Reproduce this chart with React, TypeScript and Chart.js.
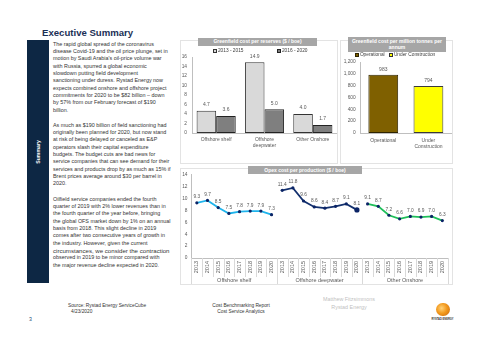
import React, { useEffect, useRef } from "react";
import { Chart, registerables } from "chart.js";

Chart.register(...registerables);

// ---------- data ----------
const reserveCats = [["Offshore shelf"], ["Offshore", "deepwater"], ["Other Onshore"]];
const reserveSeriesNames = ["2013 - 2015", "2016 - 2020"];
const reserve2013to2015 = [4.7, 14.9, 4.0];
const reserve2016to2020 = [3.6, 5.0, 1.7];

const mtpaCats = [["Operational"], ["Under", "Construction"]];
const mtpaSeriesNames = ["Operational", "Under Construction"];
const mtpaValues = [983, 794];

const opexYears = ["2013", "2014", "2015", "2016", "2017", "2018", "2019", "2020"];
const opexGroups = ["Offshore shelf", "Offshore deepwater", "Other Onshore"];
const opexShelf = [9.3, 9.7, 8.5, 7.5, 7.8, 7.9, 7.9, 7.3];
const opexDeepwater = [11.4, 11.8, 9.6, 8.6, 8.4, 8.7, 9.1, 8.1];
const opexOnshore = [9.1, 8.7, 7.2, 6.6, 7.0, 6.9, 7.0, 6.3];

const para1 = [
  "The rapid global spread of the coronavirus",
  "disease Covid-19 and the oil price plunge, set in",
  "motion by Saudi Arabia's oil-price volume war",
  "with Russia, spurred a global economic",
  "slowdown putting field development",
  "sanctioning under duress. Rystad Energy now",
  "expects combined onshore and offshore project",
  "commitments for 2020 to be $82 billion \u2013 down",
  "by 57% from our February forecast of $190",
  "billion.",
];
const para2 = [
  "As much as $190 billion of field sanctioning had",
  "originally been planned for 2020, but now stand",
  "at risk of being delayed or canceled as E&P",
  "operators slash their capital expenditure",
  "budgets. The budget cuts are bad news for",
  "service companies that can see demand for their",
  "services and products drop by as much as 15% if",
  "Brent prices average around $30 per barrel in",
  "2020.",
];
const para3 = [
  "Oilfield service companies ended the fourth",
  "quarter of 2019 with 2% lower revenues than in",
  "the fourth quarter of the year before, bringing",
  "the global OFS market down by 1% on an annual",
  "basis from 2018. This slight decline in 2019",
  "comes after two consecutive years of growth in",
  "the industry. However, given the current",
  "circumstances, we consider the contraction",
  "observed in 2019 to be minor compared with",
  "the major revenue decline expected in 2020.",
];

// ---------- helpers ----------
const FONT = '"Liberation Sans", Arial, sans-serif';
const NARROW = '"Liberation Sans Narrow", "Liberation Sans", Arial, sans-serif';
Chart.defaults.font.family = FONT;

const valueLabels = {
  id: "valueLabels",
  afterDatasetsDraw(chart: any, _args: any, opts: any) {
    const ctx = chart.ctx;
    ctx.save();
    ctx.font = `${opts.size || 5}px ${FONT}`;
    ctx.fillStyle = opts.color || "#595959";
    ctx.textAlign = "center";
    ctx.textBaseline = "bottom";
    chart.data.datasets.forEach((ds: any, i: number) => {
      const meta = chart.getDatasetMeta(i);
      meta.data.forEach((el: any, j: number) => {
        const v = ds.data[j];
        if (v == null) return;
        const txt = opts.decimals != null ? Number(v).toFixed(opts.decimals) : String(v);
        ctx.fillText(txt, el.x, el.y - (opts.offset ?? 3));
      });
    });
    ctx.restore();
  },
};

const groupAxis = {
  id: "groupAxis",
  afterDraw(chart: any) {
    const ctx = chart.ctx;
    const x = chart.scales.x;
    const area = chart.chartArea;
    const n = chart.data.labels.length;
    const w = x.getPixelForValue(1) - x.getPixelForValue(0);
    ctx.save();
    ctx.strokeStyle = "#d9d9d9";
    ctx.lineWidth = 1;
    for (let i = 0; i <= n; i++) {
      const px = Math.round(x.getPixelForValue(i) - w / 2) + 0.5;
      const isGroup = i % opexYears.length === 0;
      ctx.beginPath();
      ctx.moveTo(px, area.bottom);
      ctx.lineTo(px, isGroup ? chart.height : area.bottom + 19);
      ctx.stroke();
    }
    ctx.font = `5.5px ${FONT}`;
    ctx.fillStyle = "#595959";
    ctx.textAlign = "center";
    ctx.textBaseline = "middle";
    opexGroups.forEach((g, gi) => {
      const a = x.getPixelForValue(gi * opexYears.length);
      const b = x.getPixelForValue(gi * opexYears.length + opexYears.length - 1);
      ctx.fillText(g, (a + b) / 2, area.bottom + 22.5);
    });
    ctx.restore();
  },
};

function ChartCanvas({ left, top, width, height, config }: any) {
  const ref = useRef<HTMLCanvasElement>(null);
  useEffect(() => {
    const chart = new Chart(ref.current as HTMLCanvasElement, config);
    return () => chart.destroy();
  }, []);
  return (
    <canvas
      ref={ref}
      width={width}
      height={height}
      style={{ position: "absolute", left, top, width, height }}
    />
  );
}

const axisTick = { color: "#595959" };

const reserveConfig: any = {
  type: "bar",
  data: {
    labels: reserveCats,
    datasets: [
      { label: reserveSeriesNames[0], data: reserve2013to2015, backgroundColor: "#d9d9d9", borderColor: "#333333", borderWidth: 1, borderSkipped: false },
      { label: reserveSeriesNames[1], data: reserve2016to2020, backgroundColor: "#7f7f7f", borderColor: "#222222", borderWidth: 1, borderSkipped: false },
    ],
  },
  options: {
    responsive: false,
    animation: false,
    devicePixelRatio: 1,
    layout: { padding: { top: 17, right: 0, left: 0, bottom: 0 } },
    datasets: { bar: { categoryPercentage: 0.81, barPercentage: 1 } },
    plugins: {
      legend: { display: false },
      tooltip: { enabled: false },
      valueLabels: { offset: 3.5, decimals: 1, size: 5 },
    },
    scales: {
      x: {
        grid: { display: false, drawTicks: false },
        border: { color: "#bfbfbf" },
        ticks: { ...axisTick, font: { size: 5, lineHeight: 1.2 }, padding: 4, maxRotation: 0, autoSkip: false },
        afterFit: (s: any) => { s.height = 30; },
      },
      y: {
        min: 0,
        max: 16,
        grid: { display: false, drawTicks: false },
        border: { color: "#bfbfbf" },
        ticks: { ...axisTick, stepSize: 2, font: { size: 4.8 }, padding: 5 },
        afterFit: (s: any) => { s.width = 12; },
      },
    },
  },
  plugins: [valueLabels],
};

const mtpaConfig: any = {
  type: "bar",
  data: {
    labels: mtpaCats,
    datasets: [
      {
        label: "Greenfield cost per million tonnes per annum",
        data: mtpaValues,
        backgroundColor: ["#7f6000", "#ffff00"],
        borderColor: ["#2e2400", "#3a3a3a"],
        borderWidth: 1,
        borderSkipped: false,
      },
    ],
  },
  options: {
    responsive: false,
    animation: false,
    devicePixelRatio: 1,
    layout: { padding: { top: 22, right: 1, left: 0, bottom: 0 } },
    datasets: { bar: { categoryPercentage: 1, barPercentage: 0.66 } },
    plugins: {
      legend: { display: false },
      tooltip: { enabled: false },
      valueLabels: { offset: 2.5, size: 5 },
    },
    scales: {
      x: {
        grid: { display: false, drawTicks: false },
        border: { color: "#bfbfbf" },
        ticks: { ...axisTick, font: { size: 5, lineHeight: 1.2 }, padding: 5, maxRotation: 0, autoSkip: false },
        afterFit: (s: any) => { s.height = 30; },
      },
      y: {
        min: 0,
        max: 1200,
        grid: { display: false, drawTicks: false },
        border: { color: "#bfbfbf" },
        ticks: { ...axisTick, stepSize: 200, font: { size: 4.8 }, padding: 5 },
        afterFit: (s: any) => { s.width = 20.7; },
      },
    },
  },
  plugins: [valueLabels],
};

const blank = () => opexYears.map(() => null) as (number | null)[];
const opexLabels = [...opexYears, ...opexYears, ...opexYears];
const POINT = "#0b2466";

const opexConfig: any = {
  type: "line",
  data: {
    labels: opexLabels,
    datasets: [
      { label: opexGroups[0], data: [...opexShelf, ...blank(), ...blank()], borderColor: "#1fb4ec", borderWidth: 1.8, pointRadius: 1.6, pointBackgroundColor: POINT, pointBorderWidth: 0 },
      { label: opexGroups[1], data: [...blank(), ...opexDeepwater, ...blank()], borderColor: "#13306e", borderWidth: 1.8, pointRadius: (c: any) => (c.dataIndex === 15 ? 2.6 : 1.6), pointBackgroundColor: POINT, pointBorderWidth: 0 },
      { label: opexGroups[2], data: [...blank(), ...blank(), ...opexOnshore], borderColor: "#1fbf5a", borderWidth: 1.8, pointRadius: 1.6, pointBackgroundColor: POINT, pointBorderWidth: 0 },
    ],
  },
  options: {
    responsive: false,
    animation: false,
    devicePixelRatio: 1,
    spanGaps: false,
    layout: { padding: { top: 3, right: 0, left: 0, bottom: 0 } },
    plugins: {
      legend: { display: false },
      tooltip: { enabled: false },
      valueLabels: { offset: 3.5, decimals: 1, size: 4.8 },
    },
    scales: {
      x: {
        offset: true,
        grid: { display: false, drawTicks: false },
        border: { color: "#bfbfbf" },
        ticks: { ...axisTick, font: { size: 5.5 }, padding: 3, minRotation: 90, maxRotation: 90, autoSkip: false },
        afterFit: (s: any) => { s.height = 26; },
      },
      y: {
        min: 0,
        max: 14,
        grid: { display: false, drawTicks: false },
        border: { color: "#bfbfbf" },
        ticks: { ...axisTick, stepSize: 2, font: { size: 4.8 }, padding: 4 },
        afterFit: (s: any) => { s.width = 11.5; },
      },
    },
  },
  plugins: [valueLabels, groupAxis],
};

// ---------- layout pieces ----------
const abs = (left: number, top: number, extra: any = {}) => ({ position: "absolute" as const, left, top, ...extra });

function TitleBand({ left, top, width, height, lines }: any) {
  return (
    <div
      style={abs(left, top, {
        width,
        height,
        background: "#a6a6a6",
        color: "#fff",
        fontFamily: FONT,
        fontWeight: 700,
        fontSize: 5,
        lineHeight: "6.5px",
        textAlign: "center",
        display: "flex",
        flexDirection: "column",
        justifyContent: "center",
      })}
    >
      {lines.map((l: string, i: number) => (
        <div key={i}>{l}</div>
      ))}
    </div>
  );
}

function LegendItem({ left, top, color, border, text }: any) {
  return (
    <div style={abs(left, top, { display: "flex", alignItems: "center", fontFamily: FONT, fontSize: 4.8, color: "#404040", whiteSpace: "nowrap" })}>
      <span style={{ display: "inline-block", width: 2.6, height: 2.6, background: color, border: `0.6px solid ${border}`, marginRight: 0.8 }} />
      {text}
    </div>
  );
}

function Para({ top, lines, bigIndex }: any) {
  return (
    <>
      {lines.map((l: string, i: number) => (
        <div
          key={i}
          style={abs(53, top + i * 7.33 - 3.7, {
            fontFamily: NARROW,
            fontSize: i === bigIndex ? 6.1 : 5.4,
            lineHeight: "7.4px",
            color: "#333",
            whiteSpace: "nowrap",
          })}
        >
          {l}
        </div>
      ))}
    </>
  );
}

export default function App() {
  useEffect(() => {
    document.body.style.margin = "0";
  }, []);
  return (
    <div style={{ position: "fixed", left: 0, top: 0, width: 480, height: 350, background: "#fff", overflow: "hidden" }}>
      {/* header */}
      <div style={abs(42, 26.5, { fontFamily: FONT, fontWeight: 700, fontSize: 9.6, color: "#1b2f55", whiteSpace: "nowrap" })}>
        Executive Summary
      </div>
      {/* navy side bar */}
      <div style={abs(27, 40, { width: 22, height: 243, background: "#0d2744" })} />
      <div
        style={abs(38, 152, {
          transform: "translate(-50%, -50%) rotate(-90deg)",
          color: "#fff",
          fontFamily: FONT,
          fontWeight: 700,
          fontSize: 5.2,
          whiteSpace: "nowrap",
        })}
      >
        Summary
      </div>

      <Para top={44.5} lines={para1} />
      <Para top={125.3} lines={para2} />
      <Para top={199.3} lines={para3} bigIndex={7} />

      {/* chart boxes */}
      <div style={abs(180, 40, { width: 156, height: 122, border: "1px solid #e3e3e3" })} />
      <div style={abs(340, 40, { width: 111, height: 122, border: "1px solid #e3e3e3" })} />
      <div style={abs(180, 168, { width: 271, height: 115, border: "1px solid #e3e3e3" })} />

      <ChartCanvas left={180} top={40} width={157} height={123} config={reserveConfig} />
      <ChartCanvas left={340} top={40} width={112} height={123} config={mtpaConfig} />
      <ChartCanvas left={180} top={168} width={272} height={116} config={opexConfig} />

      <TitleBand left={198} top={37.5} width={119} height={8} lines={["Greenfield cost per reserves ($ / boe)"]} />
      <TitleBand left={348} top={37} width={98} height={14.5} lines={["Greenfield cost per million tonnes per", "annum"]} />
      <TitleBand left={248} top={166} width={114} height={8} lines={["Opex cost per production ($ / boe)"]} />

      <LegendItem left={212.5} top={48.3} color="#d9d9d9" border="#333" text={reserveSeriesNames[0]} />
      <LegendItem left={276.5} top={48.3} color="#7f7f7f" border="#222" text={reserveSeriesNames[1]} />
      <LegendItem left={354.5} top={52.3} color="#7f6000" border="#2e2400" text={mtpaSeriesNames[0]} />
      <LegendItem left={388.5} top={52.3} color="#ffff00" border="#333" text={mtpaSeriesNames[1]} />

      {/* footer */}
      <div style={abs(68, 302.5, { fontFamily: FONT, fontSize: 4.8, color: "#333", whiteSpace: "nowrap" })}>
        Source: Rystad Energy ServiceCube
      </div>
      <div style={abs(71, 309, { fontFamily: FONT, fontSize: 4.8, color: "#333", whiteSpace: "nowrap" })}>4/23/2020</div>
      <div style={abs(29, 316, { fontFamily: FONT, fontSize: 5.2, color: "#1f4e79", whiteSpace: "nowrap" })}>3</div>
      <div style={abs(241, 303, { transform: "translateX(-50%)", fontFamily: FONT, fontSize: 4.8, color: "#333", whiteSpace: "nowrap", textAlign: "center", lineHeight: "5.8px" })}>
        <div>Cost Benchmarking Report</div>
        <div>Cost Service Analytics</div>
      </div>
      <div style={abs(349, 295, { transform: "translateX(-50%)", fontFamily: FONT, fontSize: 5.4, color: "#bfbfbf", whiteSpace: "nowrap", textAlign: "center", lineHeight: "8px" })}>
        <div>Matthew Fitzsimmons</div>
        <div>Rystad Energy</div>
      </div>
      {/* logo */}
      <div
        style={abs(436, 302.5, {
          width: 13.5,
          height: 13.5,
          borderRadius: "50%",
          background: "radial-gradient(circle at 40% 40%, #ffd27a 0%, #f39a1e 45%, #c7620a 100%)",
        })}
      />
      <div style={abs(442.5, 318, { transform: "translateX(-50%)", fontFamily: FONT, fontSize: 2.6, color: "#333", whiteSpace: "nowrap", fontWeight: 700 })}>
        RYSTAD ENERGY
      </div>
    </div>
  );
}
